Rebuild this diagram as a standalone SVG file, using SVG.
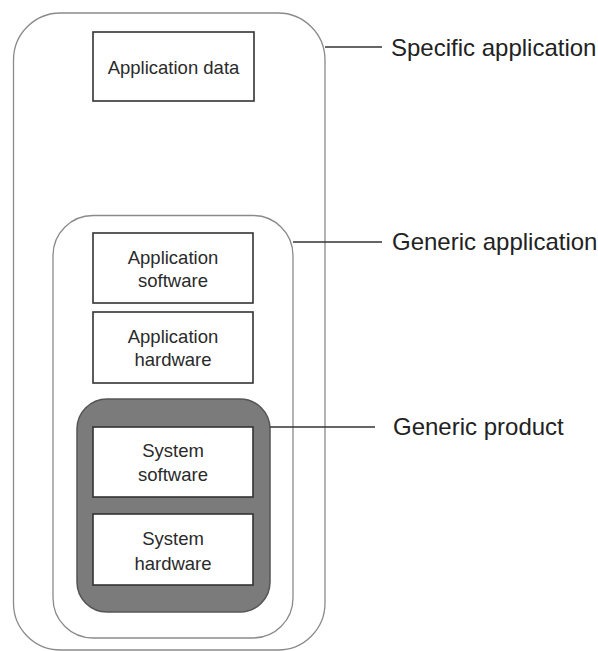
<svg xmlns="http://www.w3.org/2000/svg" width="598" height="651" viewBox="0 0 598 651">
  <style>
    .shell { fill: #ffffff; stroke: #8a8a8a; stroke-width: 1.3; }
    .core { fill: #7b7b7b; stroke: #555555; stroke-width: 1.5; }
    .box { fill: #ffffff; stroke: #333333; stroke-width: 1.6; }
    .lbl { font-family: "Liberation Sans", Arial, sans-serif; font-size: 18.5px; fill: #2a2a2a; text-anchor: middle; }
    .tag { font-family: "Liberation Sans", Arial, sans-serif; font-size: 24px; fill: #222222; }
    .lead { stroke: #333333; stroke-width: 1.5; fill: none; }
  </style>
  <rect width="598" height="651" fill="#ffffff"/>

  <!-- outer layer: specific application -->
  <g id="specific-application">
    <rect class="shell" x="13.5" y="13" width="311.5" height="637" rx="47" ry="47"/>
  </g>

  <g id="application-data">
    <rect class="box" x="93" y="32" width="161" height="69"/>
    <text class="lbl" x="173.5" y="73.5">Application data</text>
  </g>

  <!-- middle layer: generic application -->
  <g id="generic-application">
    <rect class="shell" x="53" y="215.5" width="240" height="422.5" rx="40" ry="40"/>
  </g>

  <g id="application-software">
    <rect class="box" x="93" y="233" width="160" height="70"/>
    <text class="lbl" x="173" y="264">Application</text>
    <text class="lbl" x="173" y="287">software</text>
  </g>

  <g id="application-hardware">
    <rect class="box" x="93" y="312" width="160" height="71"/>
    <text class="lbl" x="173" y="343">Application</text>
    <text class="lbl" x="173" y="366">hardware</text>
  </g>

  <!-- inner layer: generic product -->
  <g id="generic-product">
    <rect class="core" x="77" y="399" width="193" height="213" rx="30" ry="30"/>
  </g>

  <g id="system-software">
    <rect class="box" x="93" y="427" width="160" height="70"/>
    <text class="lbl" x="173" y="457">System</text>
    <text class="lbl" x="173" y="481">software</text>
  </g>

  <g id="system-hardware">
    <rect class="box" x="93" y="514" width="160" height="71"/>
    <text class="lbl" x="173" y="545">System</text>
    <text class="lbl" x="173" y="570">hardware</text>
  </g>

  <!-- leader lines from each layer to its caption -->
  <g id="connectors">
    <line class="lead" x1="325" y1="47" x2="382" y2="47"/>
    <line class="lead" x1="293" y1="242" x2="382" y2="242"/>
    <line class="lead" x1="270" y1="427" x2="375" y2="427"/>
  </g>

  <g id="captions">
    <text class="tag" x="391" y="56">Specific application</text>
    <text class="tag" x="392" y="250">Generic application</text>
    <text class="tag" x="393" y="435">Generic product</text>
  </g>
</svg>
